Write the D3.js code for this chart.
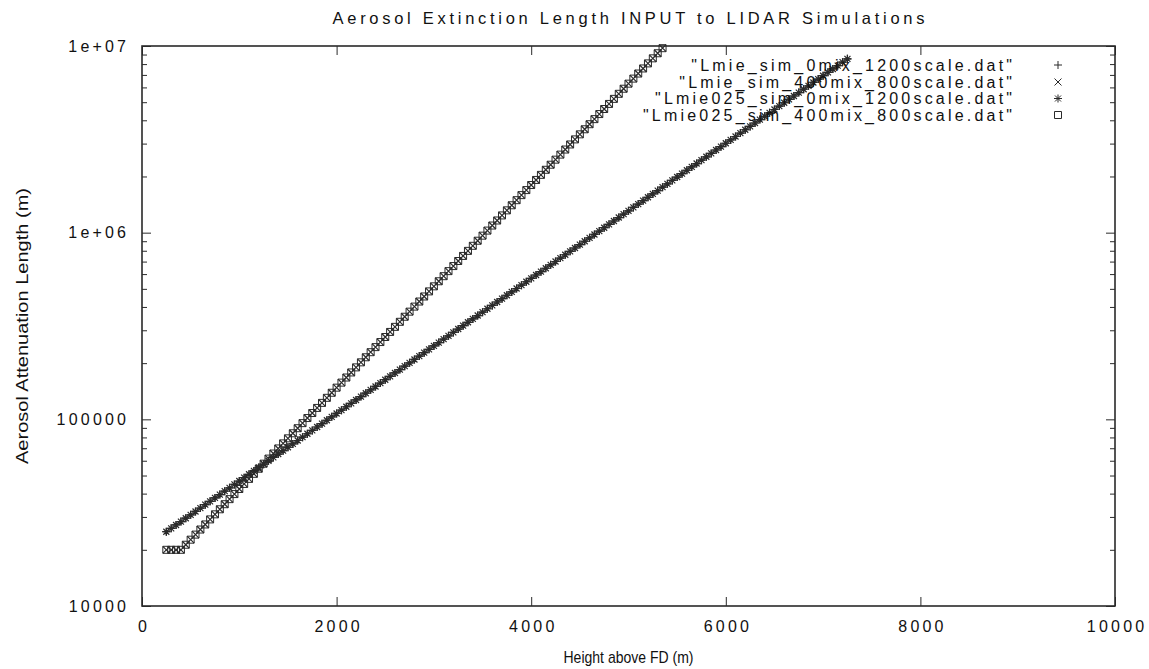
<!DOCTYPE html>
<html><head><meta charset="utf-8">
<script src="https://cdn.jsdelivr.net/npm/d3@7"></script>
<style>
body{margin:0;background:#fff}
svg{display:block}
text{font-family:"Liberation Sans",Arial,Helvetica,sans-serif;fill:#111}
</style>
</head><body>
<svg id="chart" width="1149" height="669"></svg>
<script>
// ---- data ----
const title = "Aerosol Extinction Length INPUT to LIDAR Simulations";
const xLabel = "Height above FD (m)";
const yLabel = "Aerosol Attenuation Length (m)";
const xTicks = [0, 2000, 4000, 6000, 8000, 10000];
const xTickLabels = ["0", "2000", "4000", "6000", "8000", "10000"];
const yTicks = [1e4, 1e5, 1e6, 1e7];
const yTickLabels = ["10000", "100000", "1e+06", "1e+07"];
const seriesNames = ['"Lmie_sim_0mix_1200scale.dat"', '"Lmie_sim_400mix_800scale.dat"', '"Lmie025_sim_0mix_1200scale.dat"', '"Lmie025_sim_400mix_800scale.dat"'];
const seriesMarkers = ["plus", "cross", "star", "square"];

const heightsLow = [
250,300,350,400,450,500,550,600,650,700,750,800,850,900,950,1000,1050,1100,1150,1200,
1250,1300,1350,1400,1450,1500,1550,1600,1650,1700,1750,1800,1850,1900,1950,2000,2050,2100,2150,2200,
2250,2300,2350,2400,2450,2500,2550,2600,2650,2700,2750,2800,2850,2900,2950,3000,3050,3100,3150,3200,
3250,3300,3350,3400,3450,3500,3550,3600,3650,3700,3750,3800,3850,3900,3950,4000,4050,4100,4150,4200,
4250,4300,4350,4400,4450,4500,4550,4600,4650,4700,4750,4800,4850,4900,4950,5000,5050,5100,5150,5200,
5250,5300,5350,5400,5450,5500,5550,5600,5650,5700,5750,5800,5850,5900,5950,6000,6050,6100,6150,6200,
6250,6300,6350,6400,6450,6500,6550,6600,6650,6700,6750,6800,6850,6900,6950,7000,7050,7100,7150,7200,
7250];
const lmieSim0mix1200 = [
25000,26060,27170,28330,29530,30790,32100,33470,34890,36370,37920,39540,41220,42970,44800,46710,48690,50770,52930,55180,57520,59970,62520,65180,
67960,70850,73860,77010,80280,83700,87260,90970,94840,98880,103100,107500,112000,116800,121800,127000,132400,138000,143900,150000,156400,163000,170000,177200,
184700,192600,200800,209300,218200,227500,237200,247300,257800,268800,280200,292100,304600,317500,331000,345100,359800,375100,391100,407700,425100,443100,462000,481600,
502100,523500,545800,569000,593200,618400,644800,672200,700800,730600,761700,794100,827900,863100,899800,938100,978000,1020000,1063000,1108000,1155000,1205000,1256000,1309000,
1365000,1423000,1484000,1547000,1613000,1681000,1753000,1827000,1905000,1986000,2070000,2159000,2250000,2346000,2446000,2550000,2659000,2772000,2890000,3013000,3141000,3274000,3415000,3559000,
3710000,3868000,4033000,4204000,4383000,4570000,4764000,4967000,5178000,5398000,5628000,5868000,6117000,6378000,6649000,6932000,7227000,7534000,7855000,8189000,8537000];
const lmie025Sim0mix1200 = [
25000,26060,27170,28330,29530,30790,32100,33470,34890,36370,37920,39540,41220,42970,44800,46710,48690,50770,52930,55180,57520,59970,62520,65180,
67960,70850,73860,77010,80280,83700,87260,90970,94840,98880,103100,107500,112000,116800,121800,127000,132400,138000,143900,150000,156400,163000,170000,177200,
184700,192600,200800,209300,218200,227500,237200,247300,257800,268800,280200,292100,304600,317500,331000,345100,359800,375100,391100,407700,425100,443100,462000,481600,
502100,523500,545800,569000,593200,618400,644800,672200,700800,730600,761700,794100,827900,863100,899800,938100,978000,1020000,1063000,1108000,1155000,1205000,1256000,1309000,
1365000,1423000,1484000,1547000,1613000,1681000,1753000,1827000,1905000,1986000,2070000,2159000,2250000,2346000,2446000,2550000,2659000,2772000,2890000,3013000,3141000,3274000,3415000,3559000,
3710000,3868000,4033000,4204000,4383000,4570000,4764000,4967000,5178000,5398000,5628000,5868000,6117000,6378000,6649000,6932000,7227000,7534000,7855000,8189000,8537000];

const heightsHigh = [
250,300,350,400,450,500,550,600,650,700,750,800,850,900,950,1000,1050,1100,1150,1200,
1250,1300,1350,1400,1450,1500,1550,1600,1650,1700,1750,1800,1850,1900,1950,2000,2050,2100,2150,2200,
2250,2300,2350,2400,2450,2500,2550,2600,2650,2700,2750,2800,2850,2900,2950,3000,3050,3100,3150,3200,
3250,3300,3350,3400,3450,3500,3550,3600,3650,3700,3750,3800,3850,3900,3950,4000,4050,4100,4150,4200,
4250,4300,4350,4400,4450,4500,4550,4600,4650,4700,4750,4800,4850,4900,4950,5000,5050,5100,5150,5200,
5250,5300,5350];
const lmieSim400mix800 = [
20000,20000,20000,
20000,21290,22660,24120,25680,27340,29100,30980,32970,35100,37360,39770,42340,45070,47980,51070,
54370,57870,61600,65580,69810,74310,79100,84200,89630,95420,101600,108100,115100,122500,130400,138800,
147800,157300,167500,178300,189800,202000,215000,228900,243700,259400,276100,293900,312900,333000,354500,377400,
401700,427600,455200,484600,515800,549100,584500,622200,662300,705000,750500,798900,850400,905300,963700,1026000,
1092000,1162000,1237000,1317000,1402000,1493000,1589000,1691000,1800000,1916000,2040000,2172000,2312000,2461000,2619000,2788000,
2968000,3160000,3363000,3580000,3811000,4057000,4319000,4597000,4894000,5209000,5545000,5903000,6284000,6689000,7120000,7580000,
8069000,8589000,9143000,9733000];
const lmie025Sim400mix800 = [
20000,20000,20000,
20000,21290,22660,24120,25680,27340,29100,30980,32970,35100,37360,39770,42340,45070,47980,51070,
54370,57870,61600,65580,69810,74310,79100,84200,89630,95420,101600,108100,115100,122500,130400,138800,
147800,157300,167500,178300,189800,202000,215000,228900,243700,259400,276100,293900,312900,333000,354500,377400,
401700,427600,455200,484600,515800,549100,584500,622200,662300,705000,750500,798900,850400,905300,963700,1026000,
1092000,1162000,1237000,1317000,1402000,1493000,1589000,1691000,1800000,1916000,2040000,2172000,2312000,2461000,2619000,2788000,
2968000,3160000,3363000,3580000,3811000,4057000,4319000,4597000,4894000,5209000,5545000,5903000,6284000,6689000,7120000,7580000,
8069000,8589000,9143000,9733000];

const seriesX = [heightsLow, heightsHigh, heightsLow, heightsHigh];
const seriesY = [lmieSim0mix1200, lmieSim400mix800, lmie025Sim0mix1200, lmie025Sim400mix800];

// ---- layout ----
const L = 142, R = 1115, T = 46, B = 606;
const FS = 16, SP = 3.2;
const ink = "#2a2a2a";

const svg = d3.select("#chart");
const x = d3.scaleLinear().domain([0, 10000]).range([L, R]);
const y = d3.scaleLog().domain([1e4, 1e7]).range([B, T]);

function spaced(sel, sp) {
  sel.each(function () {
    const n = this.textContent.length;
    const w = this.getComputedTextLength();
    d3.select(this).attr("textLength", w + (n - 1) * sp).attr("lengthAdjust", "spacing");
  });
}

const yMinor = [];
[1e4, 1e5, 1e6].forEach(d => { for (let k = 2; k <= 9; k++) yMinor.push(d * k); });

function styleAxis(g) {
  g.select(".domain").remove();
  g.selectAll(".tick line").attr("stroke", ink).attr("stroke-width", 1);
  g.selectAll(".tick text").attr("font-size", FS).attr("fill", "#111")
    .style("font-family", '"Liberation Sans",Arial,sans-serif');
}

const gb = svg.append("g").attr("transform", `translate(0,${B})`)
  .call(d3.axisBottom(x).tickValues(xTicks).tickFormat((d, i) => xTickLabels[i]).tickSize(-9).tickPadding(15));
styleAxis(gb);
gb.selectAll(".tick text").call(spaced, SP);
const gt = svg.append("g").attr("transform", `translate(0,${T})`)
  .call(d3.axisTop(x).tickValues(xTicks).tickFormat("").tickSize(-9));
styleAxis(gt);
const gl = svg.append("g").attr("transform", `translate(${L},0)`)
  .call(d3.axisLeft(y).tickValues(yTicks).tickFormat((d, i) => yTickLabels[i]).tickSize(-9).tickPadding(16));
styleAxis(gl);
gl.selectAll(".tick text").call(spaced, SP);
const glm = svg.append("g").attr("transform", `translate(${L},0)`)
  .call(d3.axisLeft(y).tickValues(yMinor).tickFormat("").tickSize(-5));
styleAxis(glm);
const gr = svg.append("g").attr("transform", `translate(${R},0)`)
  .call(d3.axisRight(y).tickValues(yTicks).tickFormat("").tickSize(-9));
styleAxis(gr);
const grm = svg.append("g").attr("transform", `translate(${R},0)`)
  .call(d3.axisRight(y).tickValues(yMinor).tickFormat("").tickSize(-5));
styleAxis(grm);

svg.append("rect").attr("x", L).attr("y", T).attr("width", R - L).attr("height", B - T)
  .attr("fill", "none").attr("stroke", ink).attr("stroke-width", 1.6);

const markerPath = {
  plus: "M-4,0H4M0,-4V4",
  cross: "M-3.5,-3.5L3.5,3.5M-3.5,3.5L3.5,-3.5",
  star: "M-4,0H4M0,-4V4M-3,-3L3,3M-3,3L3,-3",
  square: "M-3.5,-3.5H3.5V3.5H-3.5Z"
};

seriesNames.forEach((name, si) => {
  const pts = seriesX[si].map((h, i) => [h, seriesY[si][i]]);
  svg.append("g").selectAll("path").data(pts).join("path")
    .attr("transform", d => `translate(${x(d[0])},${y(d[1])})`)
    .attr("d", markerPath[seriesMarkers[si]])
    .attr("fill", "none").attr("stroke", ink).attr("stroke-width", si === 3 ? 1 : 1.2);
});

const legY = [65, 82, 98.5, 115];
seriesNames.forEach((name, si) => {
  svg.append("text").attr("x", 1012).attr("y", legY[si] + 5.5)
    .attr("text-anchor", "end").attr("font-size", FS).text(name).call(spaced, SP);
  svg.append("path").attr("transform", `translate(1058,${legY[si]})`)
    .attr("d", markerPath[seriesMarkers[si]])
    .attr("fill", "none").attr("stroke", ink).attr("stroke-width", 1);
});

svg.append("text").attr("x", (L + R) / 2).attr("y", 24).attr("text-anchor", "middle")
  .attr("font-size", 16.5).attr("textLength", 592).attr("lengthAdjust", "spacing").text(title);
svg.append("text").attr("x", (L + R) / 2).attr("y", 663).attr("text-anchor", "middle")
  .attr("font-size", 17).attr("textLength", 130).attr("lengthAdjust", "spacingAndGlyphs").text(xLabel);
svg.append("text").attr("transform", `translate(28,${(T + B) / 2}) rotate(-90)`).attr("text-anchor", "middle")
  .attr("font-size", 16.5).attr("textLength", 276).attr("lengthAdjust", "spacingAndGlyphs").text(yLabel);
</script>
</body></html>
